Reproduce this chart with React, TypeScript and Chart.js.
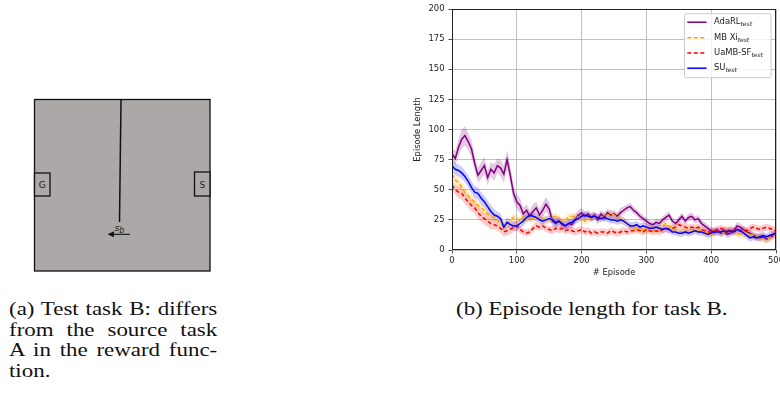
import React, { useEffect, useRef } from "react";
import { Chart, registerables } from "chart.js";

Chart.register(...registerables);

// Episode sampling step of the stored curves (values read every 5 episodes)
const EPISODE_STEP = 5;

const X_TICKS = [0, 100, 200, 300, 400, 500];
const Y_TICKS = [0, 25, 50, 75, 100, 125, 150, 175, 200];

const LEGEND_MAIN = ["AdaRL", "MB Xi", "UaMB-SF", "SU"];
const LEGEND_SUB = "test";

// AdaRL_test (purple, solid)
const ADARL = [
  80, 76, 85, 92, 95, 90, 84, 72, 62, 66,
  70, 60, 67, 64, 70, 68, 63, 75, 62, 47,
  40, 37, 30, 33, 28, 32, 35, 29, 33, 38,
  34, 24, 22, 24, 21, 20, 22, 21, 25, 29,
  31, 28, 30, 27, 29, 25, 30, 27, 31, 29,
  30, 28, 31, 33, 35, 36, 33, 31, 28, 26,
  24, 22, 21, 23, 22, 25, 27, 29, 24, 22,
  25, 28, 24, 27, 28, 25, 26, 22, 20, 18,
  16, 15, 16, 14, 15, 13, 14, 16, 20, 19,
  17, 15, 14, 12, 11, 10, 11, 9, 10, 12,
  14,
];
const ADARL_SPREAD = [
  5, 6, 7, 8, 8, 7, 7, 6, 6, 7,
  7, 6, 6, 7, 6, 7, 7, 8, 7, 7,
  6, 6, 5, 5, 5, 6, 5, 5, 6, 6,
  6, 5, 4, 4, 4, 4, 4, 4, 4, 4,
  4, 4, 3, 4, 3, 4, 3, 4, 3, 4,
  3, 3, 4, 3, 3, 3, 3, 3, 3, 3,
  3, 3, 3, 3, 3, 3, 3, 3, 3, 3,
  3, 3, 3, 3, 3, 3, 3, 3, 3, 3,
  3, 3, 3, 3, 3, 3, 3, 3, 3, 3,
  3, 3, 3, 3, 3, 3, 3, 3, 3, 3,
  3,
];

// MB Xi_test (orange, dashed)
const MBXI = [
  63, 58, 56, 52, 48, 45, 42, 40, 37, 35,
  33, 30, 28, 27, 25, 22, 20, 21, 24, 27,
  26, 24, 28, 25, 27, 26, 25, 27, 26, 25,
  25, 27, 28, 26, 24, 25, 27, 28, 28, 27,
  26, 24, 25, 27, 28, 27, 26, 28, 29, 30,
  29, 28, 25, 24, 22, 20, 18, 18, 17, 16,
  17, 18, 17, 16, 18, 20, 22, 20, 18, 17,
  16, 15, 16, 15, 16, 17, 16, 15, 14, 15,
  13, 14, 15, 14, 15, 17, 15, 16, 14, 13,
  12, 14, 13, 12, 11, 10, 9, 8, 10, 11,
  13,
];
const MBXI_SPREAD = [
  4, 4, 4, 4, 4, 4, 4, 4, 4, 4,
  4, 4, 4, 4, 4, 4, 4, 4, 3, 3,
  3, 3, 3, 3, 3, 3, 3, 3, 3, 3,
  3, 3, 3, 3, 3, 3, 3, 3, 3, 3,
  3, 3, 3, 3, 3, 3, 3, 3, 3, 3,
  3, 3, 3, 3, 3, 3, 3, 3, 3, 3,
  3, 3, 3, 3, 3, 3, 3, 3, 3, 3,
  3, 3, 3, 3, 3, 3, 3, 3, 3, 3,
  3, 3, 3, 3, 3, 3, 3, 3, 3, 3,
  3, 3, 3, 3, 3, 3, 3, 3, 3, 3,
  3,
];

// UaMB-SF_test (red, dashed)
const UAMBSF = [
  54, 50, 48, 47, 43, 40, 37, 35, 31, 28,
  26, 24, 22, 21, 20, 18, 15, 16, 17, 19,
  20, 17, 15, 14, 15, 18, 20, 19, 20, 18,
  17, 16, 18, 17, 18, 16, 17, 16, 15, 16,
  17, 15, 16, 14, 15, 14, 15, 15, 14, 16,
  15, 14, 15, 16, 15, 16, 16, 17, 16, 15,
  17, 16, 15, 16, 15, 17, 18, 17, 18, 19,
  21, 20, 19, 18, 19, 18, 19, 17, 16, 15,
  15, 16, 17, 18, 17, 16, 17, 16, 15, 16,
  17, 16, 18, 19, 18, 17, 18, 19, 18, 17,
  16,
];
const UAMBSF_SPREAD = [
  4, 4, 5, 5, 5, 5, 5, 5, 5, 5,
  5, 5, 5, 4, 4, 4, 4, 4, 4, 4,
  4, 3, 3, 3, 3, 3, 3, 3, 3, 3,
  3, 3, 3, 3, 3, 3, 3, 3, 3, 3,
  3, 3, 3, 3, 3, 3, 3, 3, 3, 3,
  3, 3, 3, 3, 3, 3, 3, 3, 3, 3,
  3, 3, 3, 3, 3, 3, 3, 3, 3, 3,
  3, 3, 3, 3, 3, 3, 3, 3, 3, 3,
  3, 3, 3, 3, 3, 3, 3, 3, 3, 3,
  3, 3, 3, 3, 3, 3, 3, 3, 3, 3,
  3,
];

// SU_test (blue, solid)
const SU = [
  70, 67, 66, 64, 61, 57, 52, 48, 47, 43,
  40, 36, 32, 29, 28, 26, 19, 23, 21, 20,
  20, 22, 24, 27, 29, 28, 27, 25, 24, 25,
  26, 25, 23, 24, 22, 20, 22, 23, 25, 26,
  28, 29, 28, 27, 28, 27, 26, 27, 26, 25,
  25, 24, 25, 24, 22, 20, 20, 21, 19, 20,
  19, 18, 18, 19, 18, 17, 18, 17, 15, 15,
  14, 14, 15, 14, 15, 16, 15, 15, 14, 13,
  14, 15, 15, 15, 16, 15, 16, 15, 17, 16,
  14, 12, 10, 11, 10, 11, 12, 11, 12, 13,
  14,
];
const SU_SPREAD = [
  5, 5, 5, 5, 5, 5, 5, 5, 5, 5,
  5, 5, 5, 5, 4, 4, 4, 4, 4, 4,
  4, 4, 4, 4, 3, 3, 3, 3, 3, 3,
  3, 3, 3, 3, 3, 3, 3, 3, 3, 3,
  3, 3, 3, 3, 3, 3, 3, 3, 3, 3,
  3, 3, 3, 3, 3, 3, 3, 3, 3, 3,
  3, 3, 3, 3, 3, 3, 3, 3, 3, 3,
  3, 3, 3, 3, 3, 3, 3, 3, 3, 3,
  3, 3, 3, 3, 3, 3, 3, 3, 3, 3,
  3, 3, 3, 3, 3, 3, 3, 3, 3, 3,
  3,
];

const COLORS = ["#800080", "#FFA500", "#FF0000", "#0000FF"];
const BAND_COLORS = [
  "rgba(128,0,128,0.22)",
  "rgba(255,165,0,0.22)",
  "rgba(255,0,0,0.2)",
  "rgba(0,0,255,0.2)",
];
const DASHES: number[][] = [[], [4, 2.5], [4, 2.5], []];
const SERIES_VALUES = [ADARL, MBXI, UAMBSF, SU];
const SERIES_SPREADS = [ADARL_SPREAD, MBXI_SPREAD, UAMBSF_SPREAD, SU_SPREAD];
// drawing order: SU on top
const LINE_ORDER = [3, 2, 1, 0];

const TICK_FONT = { family: "'DejaVu Sans', sans-serif", size: 8.4 };
const TEXT_COLOR = "#222";

const toPoints = (arr: number[]) =>
  arr.map((v, i) => ({ x: i * EPISODE_STEP, y: v }));

const frameLegendPlugin = {
  id: "frameLegend",
  afterDraw(chart: any) {
    const { ctx, chartArea: a } = chart;
    ctx.save();
    ctx.strokeStyle = "#222";
    ctx.lineWidth = 1;
    ctx.strokeRect(
      Math.round(a.left) + 0.5,
      Math.round(a.top) + 0.5,
      Math.round(a.right - a.left) - 1,
      Math.round(a.bottom - a.top) - 1
    );

    // legend box
    const bw = 86.5;
    const bh = 64;
    const bx = a.right - 91.5;
    const by = a.top + 4.7;
    ctx.beginPath();
    const r = 2;
    ctx.moveTo(bx + r, by);
    ctx.lineTo(bx + bw - r, by);
    ctx.quadraticCurveTo(bx + bw, by, bx + bw, by + r);
    ctx.lineTo(bx + bw, by + bh - r);
    ctx.quadraticCurveTo(bx + bw, by + bh, bx + bw - r, by + bh);
    ctx.lineTo(bx + r, by + bh);
    ctx.quadraticCurveTo(bx, by + bh, bx, by + bh - r);
    ctx.lineTo(bx, by + r);
    ctx.quadraticCurveTo(bx, by, bx + r, by);
    ctx.closePath();
    ctx.fillStyle = "rgba(255,255,255,0.8)";
    ctx.fill();
    ctx.strokeStyle = "#cccccc";
    ctx.lineWidth = 1;
    ctx.stroke();

    const rowY = [8.5, 24, 39.3, 54.5];
    LEGEND_MAIN.forEach((label, i) => {
      const y = by + rowY[i];
      ctx.beginPath();
      ctx.setLineDash(DASHES[i]);
      ctx.strokeStyle = COLORS[i];
      ctx.lineWidth = 1.5;
      ctx.moveTo(bx + 2.8, y);
      ctx.lineTo(bx + 22, y);
      ctx.stroke();
      ctx.setLineDash([]);
      ctx.fillStyle = TEXT_COLOR;
      ctx.textBaseline = "middle";
      ctx.textAlign = "left";
      ctx.font = "8.4px 'DejaVu Sans', sans-serif";
      const tx = bx + 29.5;
      ctx.fillText(label, tx, y);
      const w = ctx.measureText(label).width;
      ctx.font = "italic 6px 'DejaVu Sans', sans-serif";
      ctx.fillText(LEGEND_SUB, tx + w, y + 2.5);
    });
    ctx.restore();
  },
};

function EpisodeChart() {
  const ref = useRef<HTMLCanvasElement | null>(null);
  useEffect(() => {
    if (!ref.current) return;
    const datasets: any[] = [];
    SERIES_VALUES.forEach((vals, k) => {
      const spread = SERIES_SPREADS[k];
      datasets.push({
        data: toPoints(vals.map((v, i) => v - spread[i])),
        borderWidth: 0,
        pointRadius: 0,
        fill: false,
        order: 20 + k,
      });
      datasets.push({
        data: toPoints(vals.map((v, i) => v + spread[i])),
        borderWidth: 0,
        pointRadius: 0,
        fill: "-1",
        backgroundColor: BAND_COLORS[k],
        order: 20 + k,
      });
    });
    SERIES_VALUES.forEach((vals, k) => {
      datasets.push({
        data: toPoints(vals),
        borderColor: COLORS[k],
        borderWidth: 1.5,
        borderDash: DASHES[k],
        pointRadius: 0,
        fill: false,
        tension: 0,
        order: LINE_ORDER[k],
      });
    });

    const chart = new Chart(ref.current, {
      type: "line",
      data: { datasets },
      options: {
        animation: false,
        responsive: false,
        devicePixelRatio: 1,
        layout: { padding: { top: 9, right: 4, left: 0, bottom: 0 } },
        plugins: { legend: { display: false }, tooltip: { enabled: false } },
        scales: {
          x: {
            type: "linear",
            min: 0,
            max: 500,
            afterBuildTicks: (s: any) => {
              s.ticks = X_TICKS.map((v) => ({ value: v }));
            },
            ticks: {
              font: TICK_FONT,
              color: TEXT_COLOR,
              padding: 2,
              maxRotation: 0,
              autoSkip: false,
            },
            grid: {
              color: "#b0b0b0",
              lineWidth: 0.8,
              tickLength: 3.5,
              tickColor: "#222",
              tickWidth: 0.8,
            },
            border: { display: false },
            title: {
              display: true,
              text: "# Episode",
              font: TICK_FONT,
              color: TEXT_COLOR,
              padding: { top: 0, bottom: 12 },
            },
            afterFit: (s: any) => {
              s.height = 40;
              s.paddingLeft = 0;
              s.paddingRight = 0;
            },
          },
          y: {
            type: "linear",
            min: 0,
            max: 200,
            afterBuildTicks: (s: any) => {
              s.ticks = Y_TICKS.map((v) => ({ value: v }));
            },
            ticks: {
              font: TICK_FONT,
              color: TEXT_COLOR,
              padding: 4,
              autoSkip: false,
            },
            grid: {
              color: "#b0b0b0",
              lineWidth: 0.8,
              tickLength: 3.5,
              tickColor: "#222",
              tickWidth: 0.8,
            },
            border: { display: false },
            title: {
              display: true,
              text: "Episode Length",
              font: TICK_FONT,
              color: TEXT_COLOR,
              padding: { top: 13, bottom: 0 },
            },
            afterFit: (s: any) => {
              s.width = 52;
              s.paddingTop = 0;
              s.paddingBottom = 0;
            },
          },
        },
      },
      plugins: [frameLegendPlugin],
    } as any);
    return () => chart.destroy();
  }, []);
  return (
    <canvas
      ref={ref}
      width={380}
      height={290}
      style={{ position: "absolute", left: 400, top: 0, width: 380, height: 290 }}
    />
  );
}

const GRAY = "#aca8a7";

function GridWorld() {
  return (
    <svg
      width={230}
      height={290}
      style={{ position: "absolute", left: 0, top: 0 }}
    >
      <rect x={34.5} y={99.5} width={175.5} height={171.5} fill={GRAY} stroke="#111" strokeWidth={1.3} />
      <line x1={121} y1={99.5} x2={119.5} y2={222} stroke="#111" strokeWidth={1.5} />
      <rect x={34.5} y={173} width={15.5} height={23} fill={GRAY} stroke="#111" strokeWidth={1.3} />
      <text x={42.3} y={187.5} fontSize={9} fontFamily="'DejaVu Sans', sans-serif" textAnchor="middle" fill="#222">G</text>
      <rect x={194.5} y={172} width={15.5} height={24} fill={GRAY} stroke="#111" strokeWidth={1.3} />
      <text x={202.3} y={187.5} fontSize={9} fontFamily="'DejaVu Sans', sans-serif" textAnchor="middle" fill="#222">S</text>
      <text x={114.5} y={231} fontSize={9.5} fontStyle="italic" fontFamily="'DejaVu Sans', sans-serif" fill="#222">s</text>
      <text x={119.3} y={232.5} fontSize={8} fontStyle="italic" fontFamily="'DejaVu Sans', sans-serif" fill="#222">b</text>
      <line x1={130} y1={234.3} x2={112} y2={234.3} stroke="#111" strokeWidth={1.1} />
      <polygon points="107.5,234.3 114,231.3 114,237.3" fill="#111" />
    </svg>
  );
}

const captionStyle: React.CSSProperties = {
  position: "absolute",
  fontFamily: "'Liberation Serif', 'Times New Roman', serif",
  fontSize: 19.3,
  lineHeight: "20.5px",
  color: "#111",
  transform: "scaleX(1.19)",
  transformOrigin: "left top",
  whiteSpace: "nowrap",
};

const justifyLine: React.CSSProperties = {
  textAlign: "justify",
  textAlignLast: "justify" as any,
  whiteSpace: "normal",
};

export default function App() {
  return (
    <div style={{ position: "absolute", left: 0, top: 0, width: 780, height: 400, background: "#fff", overflow: "hidden" }}>
      <GridWorld />
      <EpisodeChart />
      <div style={{ ...captionStyle, left: 9, top: 299, width: 175 }}>
        <div style={justifyLine}>(a) Test task B: differs</div>
        <div style={justifyLine}>from the source task</div>
        <div style={justifyLine}>A in the reward func-</div>
        <div>tion.</div>
      </div>
      <div style={{ ...captionStyle, left: 456, top: 299 }}>(b) Episode length for task B.</div>
    </div>
  );
}
